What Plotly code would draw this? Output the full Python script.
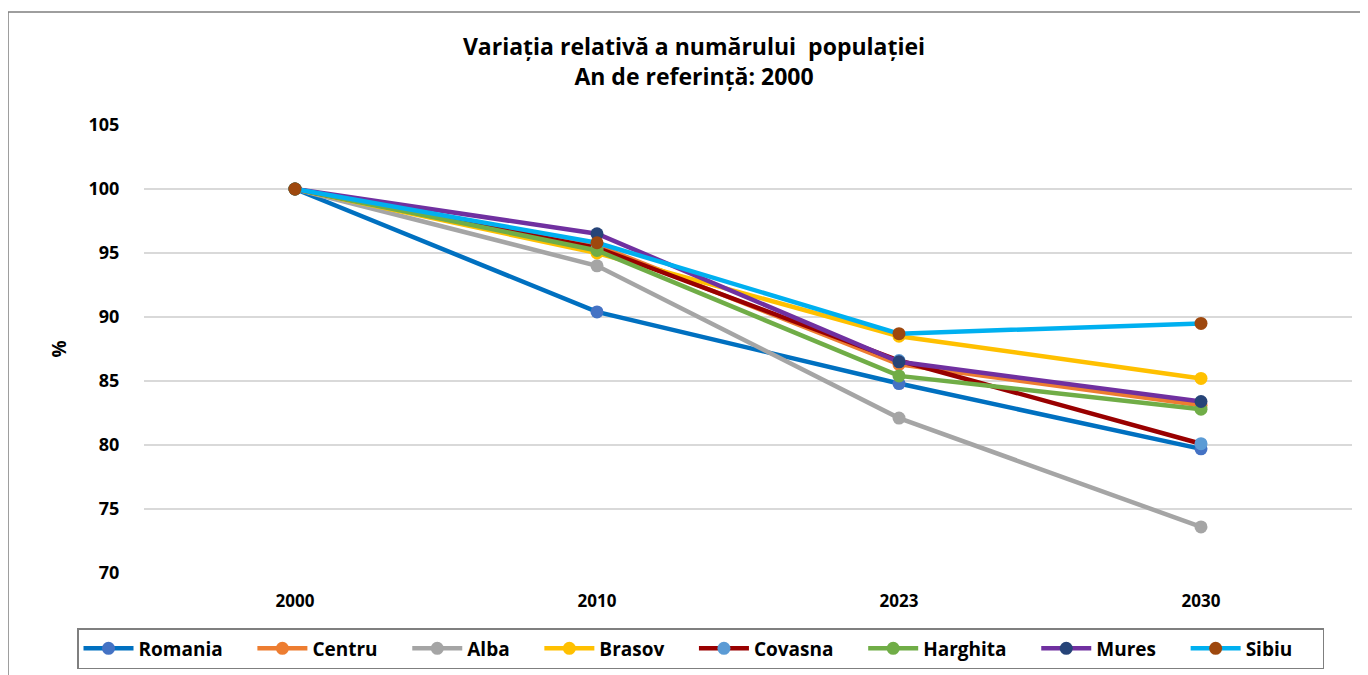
import plotly.graph_objects as go

years = ["2000", "2010", "2023", "2030"]
series_names = ["Romania", "Centru", "Alba", "Brasov", "Covasna", "Harghita", "Mures", "Sibiu"]
romania = [100, 90.4, 84.8, 79.7]
centru = [100, 95.6, 86.3, 83.1]
alba = [100, 94.0, 82.1, 73.6]
brasov = [100, 95.0, 88.5, 85.2]
covasna = [100, 95.4, 86.6, 80.1]
harghita = [100, 95.2, 85.4, 82.8]
mures = [100, 96.5, 86.5, 83.4]
sibiu = [100, 95.8, 88.7, 89.5]
y_ticks = [70, 75, 80, 85, 90, 95, 100, 105]

values = [romania, centru, alba, brasov, covasna, harghita, mures, sibiu]
line_colors = ["#0070C0", "#ED7D31", "#A5A5A5", "#FFC000", "#990000", "#70AD47", "#7030A0", "#00B0F0"]
marker_colors = ["#4472C4", "#ED7D31", "#A5A5A5", "#FFC000", "#5B9BD5", "#70AD47", "#264478", "#9E480E"]

PAD = "\u00a0" * 5  # extra spacing between legend entries

fig = go.Figure()
for name, vals, lc, mc in zip(series_names, values, line_colors, marker_colors):
    fig.add_trace(go.Scatter(
        x=years, y=vals, name=name + PAD, mode="lines+markers",
        line=dict(color=lc, width=4.5),
        marker=dict(color=mc, size=13),
        hovertemplate=name + ": %{y}<extra></extra>",
    ))

# page body has an 8px margin: reference pixel coords are shifted by OFF
OFF = 8
W, H = 1368 - OFF, 675 - OFF
font_main = "Open Sans, Liberation Sans, Arial, sans-serif"
L, R, T, B = 144 - OFF, 16, 125 - OFF, 675 - 573
PW, PH = W - L - R, H - T - B

def px_x(x):
    return (x - OFF - L) / PW

def px_y(y):
    return (H - B - (y - OFF)) / PH

fig.update_layout(
    width=W, height=H,
    paper_bgcolor="white", plot_bgcolor="white",
    margin=dict(l=L, r=R, t=T, b=B, autoexpand=False),
    font=dict(family=font_main, color="black"),
    title=dict(
        text="Variația relativă a numărului  populației<br>An de referință: 2000",
        x=(694 - OFF) / W, xanchor="center", y=1 - 47 / H, yanchor="top",
        font=dict(size=23, family=font_main, color="black", weight="bold"),
    ),
    xaxis=dict(
        type="category", range=[-0.5, 3.5], showgrid=False, zeroline=False,
        showline=False, ticks="outside", ticklen=13, tickcolor="white",
        tickfont=dict(size=17, family=font_main, color="black", weight="bold"),
    ),
    yaxis=dict(
        range=[70, 105], tickvals=y_ticks, showgrid=True, gridcolor="#D9D9D9", gridwidth=1.5,
        zeroline=False, showline=False, ticks="outside", ticklen=20, tickcolor="white",
        tickfont=dict(size=18, family=font_main, color="black", weight="bold"),
        title=dict(text="%", font=dict(size=19, family=font_main, color="black", weight="bold"), standoff=16),
    ),
    legend=dict(
        orientation="h", x=px_x(77), xanchor="left", y=px_y(628), yanchor="top",
        bordercolor="#7F7F7F", borderwidth=1.5,
        font=dict(size=19, family=font_main, color="black", weight="bold"),
        itemwidth=50,
    ),
    showlegend=True,
)

fig.add_shape(type="rect", xref="paper", yref="paper",
              x0=px_x(8), x1=px_x(1420), y0=px_y(720), y1=px_y(12),
              line=dict(color="#7F7F7F", width=1.5), fillcolor="rgba(0,0,0,0)", layer="below")

fig.write_html("out.html")
